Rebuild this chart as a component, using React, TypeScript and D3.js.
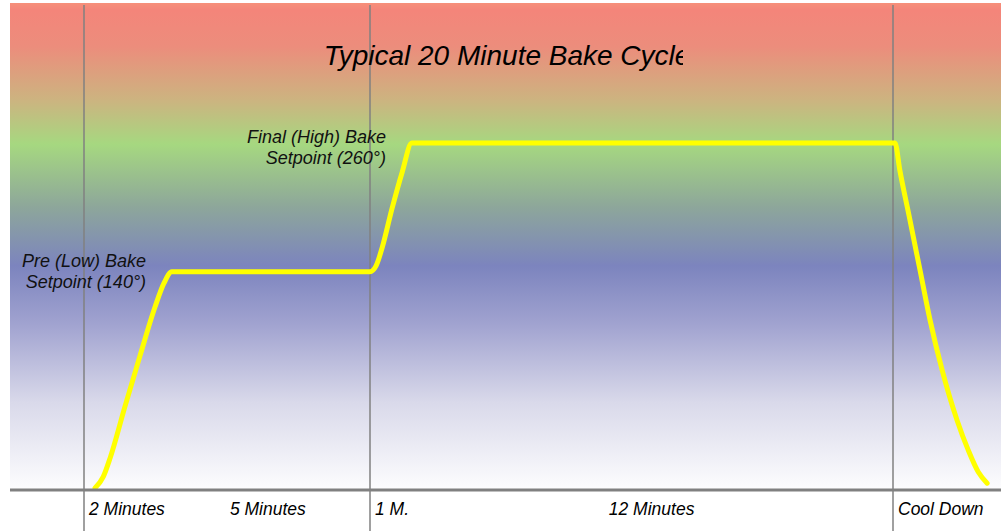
import * as d3 from "d3";

const WIDTH = 1001;
const HEIGHT = 531;
const PLOT = { left: 10, right: 1001, top: 3, bottom: 490 };
const FONT = "'Liberation Sans', Arial, sans-serif";

// minutes into the cycle where a phase boundary line is drawn
const phaseLines = [0, 7, 20];

// x-axis phase labels
const phaseNames = ["2 Minutes", "5 Minutes", "1 M.", "12 Minutes", "Cool Down"];
const phaseStarts = [0, 2, 7, 8, 20];
const phaseEnds = [2, 7, 8, 20, 22.7];

// oven temperature curve, minutes vs. relative level (% of chart height)
const minutes = [
  0.27, 0.47, 0.64, 1.0, 1.37, 1.74, 1.96, 2.15, 7.0, 7.15, 7.3, 7.55, 7.8,
  8.04, 20.05, 20.17, 20.42, 20.67, 20.92, 21.22, 21.59, 21.87, 22.12, 22.34,
];
const levels = [
  0.4, 2.7, 6.6, 17.1, 27.6, 37.7, 42.6, 44.9, 44.9, 46.1, 49.8, 58.0, 65.4,
  71.4, 71.4, 65.8, 55.6, 45.3, 35.0, 24.7, 14.4, 8.2, 3.7, 1.4,
];

const setpointNotes = [
  { lines: ["Pre (Low) Bake", "Setpoint (140°)"], minute: 1.52, level: 45.9 },
  { lines: ["Final (High) Bake", "Setpoint (260°)"], minute: 7.4, level: 71.4 },
];

const title = "Typical 20 Minute Bake Cycle";

const gradientStops = [
  { offset: 0, color: "#F6907A" },
  { offset: 0.015, color: "#F4857A" },
  { offset: 0.09, color: "#EC8D7C" },
  { offset: 0.2, color: "#CCB480" },
  { offset: 0.29, color: "#A6D880" },
  { offset: 0.42, color: "#8DA69B" },
  { offset: 0.54, color: "#7C84BE" },
  { offset: 0.66, color: "#A1A3D0" },
  { offset: 0.82, color: "#D9D9EA" },
  { offset: 1, color: "#FDFDFE" },
];

export default function App() {
  const xScale = d3.scaleLinear().domain([0, 7, 20]).range([84, 370, 893]);
  const yScale = d3.scaleLinear().domain([0, 100]).range([490, 4]);

  const points = minutes.map((m, i) => ({ m, v: levels[i] }));
  const line = d3
    .line<{ m: number; v: number }>()
    .x((d) => xScale(d.m))
    .y((d) => yScale(d.v))
    .curve(d3.curveMonotoneX);

  return (
    <svg
      width={WIDTH}
      height={HEIGHT}
      style={{ position: "absolute", left: 0, top: 0 }}
      fontFamily={FONT}
    >
      <defs>
        <linearGradient id="bg" x1="0" y1="0" x2="0" y2="1">
          {gradientStops.map((s, i) => (
            <stop key={i} offset={s.offset} stopColor={s.color} />
          ))}
        </linearGradient>
        <clipPath id="titleClip">
          <rect x={0} y={0} width={683} height={100} />
        </clipPath>
        {phaseNames.map((_, i) => (
          <clipPath id={`phase${i}`} key={i}>
            <rect
              x={xScale(phaseStarts[i])}
              y={PLOT.bottom}
              width={xScale(phaseEnds[i]) - xScale(phaseStarts[i]) + 2}
              height={HEIGHT - PLOT.bottom}
            />
          </clipPath>
        ))}
      </defs>

      {/* background */}
      <rect
        x={PLOT.left}
        y={PLOT.top}
        width={PLOT.right - PLOT.left}
        height={PLOT.bottom - PLOT.top}
        fill="url(#bg)"
      />

      {/* phase boundaries */}
      {phaseLines.map((m, i) => (
        <line
          key={i}
          x1={xScale(m)}
          x2={xScale(m)}
          y1={PLOT.top + 2}
          y2={HEIGHT}
          stroke="#808080"
          strokeWidth={1.5}
        />
      ))}

      {/* title */}
      <text
        x={507}
        y={65}
        textAnchor="middle"
        fontSize={28}
        fontStyle="italic"
        fill="#000"
        clipPath="url(#titleClip)"
      >
        {title}
      </text>

      {/* setpoint notes */}
      {setpointNotes.map((n, i) => (
        <text
          key={i}
          x={xScale(n.minute)}
          y={yScale(n.level)}
          textAnchor="end"
          fontSize={18}
          fontStyle="italic"
          fill="#111"
        >
          {n.lines.map((l, j) => (
            <tspan key={j} x={xScale(n.minute)} dy={j === 0 ? 0 : 21.5}>
              {l}
            </tspan>
          ))}
        </text>
      ))}

      {/* temperature curve */}
      <path
        d={line(points) ?? ""}
        fill="none"
        stroke="#FFFF00"
        strokeWidth={5}
        strokeLinejoin="round"
        strokeLinecap="round"
      />

      {/* axis baseline */}
      <line
        x1={PLOT.left}
        x2={PLOT.right}
        y1={PLOT.bottom}
        y2={PLOT.bottom}
        stroke="#808080"
        strokeWidth={3}
      />

      {/* phase labels */}
      {phaseNames.map((name, i) => {
        const x0 = xScale(phaseStarts[i]);
        const x1 = xScale(phaseEnds[i]);
        const narrow = x1 - x0 < 120;
        return (
          <text
            key={i}
            x={narrow ? x0 + 5 : (x0 + x1) / 2}
            y={515}
            textAnchor={narrow ? "start" : "middle"}
            fontSize={17.5}
            fontStyle="italic"
            fill="#000"
            clipPath={`url(#phase${i})`}
          >
            {name}
          </text>
        );
      })}
    </svg>
  );
}
